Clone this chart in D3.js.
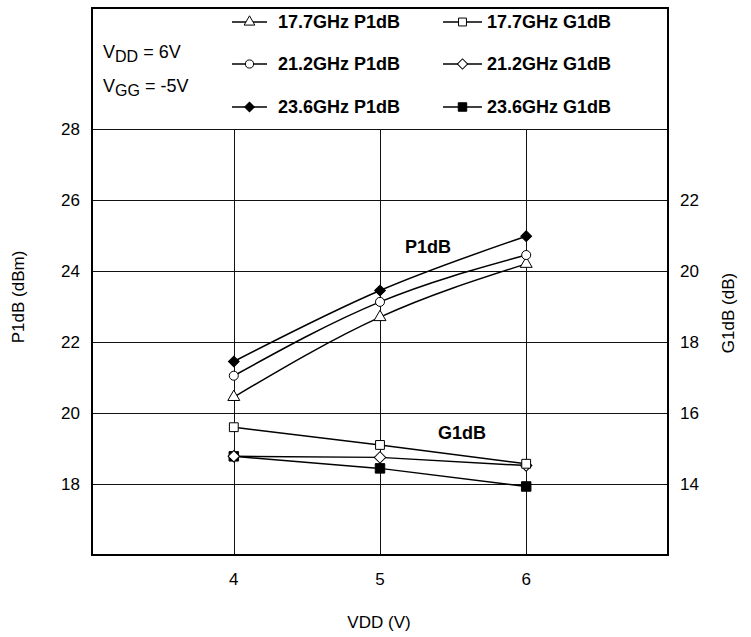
<!DOCTYPE html>
<html>
<head>
<meta charset="utf-8">
<script src="https://cdn.jsdelivr.net/npm/d3@7"></script>
<style>
  body { margin: 0; background: #fff; }
  svg { font-family: "Liberation Sans", Arial, Helvetica, sans-serif; }
</style>
</head>
<body>
<div id="chart"></div>
<script>
// data
var vdd = [4, 5, 6];
var xTicks = [4, 5, 6];
var leftTicks = [18, 20, 22, 24, 26, 28];
var rightTicks = [14, 16, 18, 20, 22];

var p1db177 = [20.45, 22.7, 24.2];
var p1db212 = [21.05, 23.13, 24.45];
var p1db236 = [21.45, 23.45, 24.98];
var g1db177 = [15.6, 15.1, 14.57];
var g1db212 = [14.78, 14.75, 14.52];
var g1db236 = [14.78, 14.44, 13.93];

var seriesNames = ["17.7GHz P1dB", "21.2GHz P1dB", "23.6GHz P1dB",
                   "17.7GHz G1dB", "21.2GHz G1dB", "23.6GHz G1dB"];

var width = 751, height = 637;
var plot = { left: 92, right: 668, top: 8, bottom: 555 };

var svg = d3.select("#chart").append("svg")
    .attr("width", width)
    .attr("height", height);

var x = d3.scaleLinear().domain([3.03, 6.97]).range([plot.left, plot.right]);
var yL = d3.scaleLinear().domain([16, 28]).range([plot.bottom, 129]);
var yR = d3.scaleLinear().domain([12, 24]).range([plot.bottom, 129]);

// series definitions: which axis, marker, fill
var series = [
    { name: seriesNames[0], values: p1db177, y: yL, sym: d3.symbolTriangle, size: 62, fill: "#fff", rot: 0, curve: d3.curveMonotoneX },
    { name: seriesNames[1], values: p1db212, y: yL, sym: d3.symbolCircle, size: 64, fill: "#fff", rot: 0, curve: d3.curveMonotoneX },
    { name: seriesNames[2], values: p1db236, y: yL, sym: d3.symbolSquare, size: 58, fill: "#000", rot: 45, curve: d3.curveMonotoneX },
    { name: seriesNames[3], values: g1db177, y: yR, sym: d3.symbolSquare, size: 78, fill: "#fff", rot: 0, curve: d3.curveLinear },
    { name: seriesNames[4], values: g1db212, y: yR, sym: d3.symbolSquare, size: 66, fill: "#fff", rot: 45, curve: d3.curveLinear },
    { name: seriesNames[5], values: g1db236, y: yR, sym: d3.symbolSquare, size: 90, fill: "#000", rot: 0, curve: d3.curveLinear }
];

// grid
var grid = svg.append("g").attr("stroke", "#111").attr("stroke-width", 1);
grid.selectAll(".hg").data(leftTicks).enter().append("line")
    .attr("x1", plot.left).attr("x2", plot.right)
    .attr("y1", function (d) { return Math.round(yL(d)) + 0.5; })
    .attr("y2", function (d) { return Math.round(yL(d)) + 0.5; });
grid.selectAll(".vg").data(xTicks).enter().append("line")
    .attr("x1", function (d) { return Math.round(x(d)) + 0.5; })
    .attr("x2", function (d) { return Math.round(x(d)) + 0.5; })
    .attr("y1", yL(28)).attr("y2", plot.bottom);

// frame
svg.append("rect")
    .attr("x", plot.left).attr("y", plot.top)
    .attr("width", plot.right - plot.left).attr("height", plot.bottom - plot.top)
    .attr("fill", "none").attr("stroke", "#000").attr("stroke-width", 2);

// tick labels
svg.append("g").selectAll("text").data(xTicks).enter().append("text")
    .attr("x", function (d) { return x(d); })
    .attr("y", 585)
    .attr("text-anchor", "middle")
    .attr("font-size", 17)
    .text(function (d) { return d; });

svg.append("g").selectAll("text").data(leftTicks).enter().append("text")
    .attr("x", 80)
    .attr("y", function (d) { return yL(d) + 6; })
    .attr("text-anchor", "end")
    .attr("font-size", 17)
    .text(function (d) { return d; });

svg.append("g").selectAll("text").data(rightTicks).enter().append("text")
    .attr("x", 680)
    .attr("y", function (d) { return yR(d) + 6; })
    .attr("text-anchor", "start")
    .attr("font-size", 17)
    .text(function (d) { return d; });

// axis titles
svg.append("text")
    .attr("x", 379).attr("y", 628)
    .attr("text-anchor", "middle").attr("font-size", 17)
    .text("VDD (V)");
svg.append("text")
    .attr("transform", "translate(24,297) rotate(-90)")
    .attr("text-anchor", "middle").attr("font-size", 17)
    .text("P1dB (dBm)");
svg.append("text")
    .attr("transform", "translate(734,313) rotate(-90)")
    .attr("text-anchor", "middle").attr("font-size", 17)
    .text("G1dB (dB)");

// lines
series.forEach(function (s) {
    var line = d3.line()
        .x(function (d, i) { return x(vdd[i]); })
        .y(function (d) { return s.y(d); })
        .curve(s.curve);
    svg.append("path")
        .datum(s.values)
        .attr("d", line)
        .attr("fill", "none")
        .attr("stroke", "#000")
        .attr("stroke-width", 1.5);
});

// markers (G1dB drawn in reverse so open marks sit on top, as in the source)
[0, 1, 2, 5, 4, 3].forEach(function (si) {
    var s = series[si];
    svg.append("g").selectAll("path").data(s.values).enter().append("path")
        .attr("transform", function (d, i) {
            return "translate(" + x(vdd[i]) + "," + s.y(d) + ") rotate(" + s.rot + ")";
        })
        .attr("d", d3.symbol().type(s.sym).size(s.size))
        .attr("fill", s.fill)
        .attr("stroke", "#000")
        .attr("stroke-width", 1);
});

// legend
var legendRows = [22, 64, 107];
var legendCols = [{ x1: 232, x2: 267, tx: 278 }, { x1: 443, x2: 482, tx: 487 }];
var legendOrder = [[0, 3], [1, 4], [2, 5]];
legendOrder.forEach(function (row, r) {
    row.forEach(function (si, c) {
        var s = series[si], col = legendCols[c], ly = legendRows[r];
        var g = svg.append("g");
        g.append("line")
            .attr("x1", col.x1).attr("x2", col.x2)
            .attr("y1", ly).attr("y2", ly)
            .attr("stroke", "#000").attr("stroke-width", 1.5);
        g.append("path")
            .attr("transform", "translate(" + ((col.x1 + col.x2) / 2) + "," + ly + ") rotate(" + s.rot + ")")
            .attr("d", d3.symbol().type(s.sym).size(s.size * 0.8))
            .attr("fill", s.fill).attr("stroke", "#000").attr("stroke-width", 1);
        g.append("text")
            .attr("x", col.tx).attr("y", ly + 6)
            .attr("font-size", 18).attr("font-weight", "bold")
            .text(s.name);
    });
});

// bias conditions
var bias = [["V", "DD", " = 6V", 58], ["V", "GG", " = -5V", 92]];
bias.forEach(function (b) {
    var t = svg.append("text").attr("x", 103).attr("y", b[3]).attr("font-size", 18);
    t.append("tspan").text(b[0]);
    t.append("tspan").attr("dy", 4).attr("font-size", 16).text(b[1]);
    t.append("tspan").attr("dy", -4).text(b[2]);
});

// in-plot labels
svg.append("text")
    .attr("x", 428).attr("y", 253)
    .attr("text-anchor", "middle").attr("font-size", 18).attr("font-weight", "bold")
    .text("P1dB");
svg.append("text")
    .attr("x", 462).attr("y", 439)
    .attr("text-anchor", "middle").attr("font-size", 18).attr("font-weight", "bold")
    .text("G1dB");
</script>
</body>
</html>
